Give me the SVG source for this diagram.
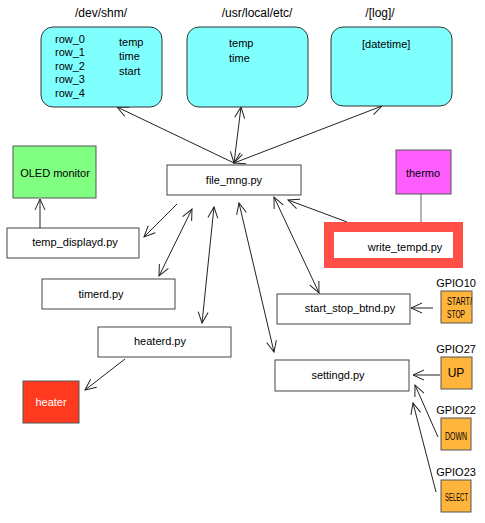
<svg xmlns="http://www.w3.org/2000/svg" width="485" height="523" viewBox="0 0 485 523">
<style>
text{font-family:"Liberation Sans",Arial,sans-serif;font-size:11px;fill:#000}
.c{text-anchor:middle}
.lbl{font-size:12px}
.box{fill:#fff;stroke:#444;stroke-width:1}
.store{fill:#80ffff;stroke:#333;stroke-width:1}
.btn{fill:#ffb43c;stroke:#555;stroke-width:1}
.cond{font-size:10px}
#connectors line,#connectors polyline{stroke:#222;stroke-width:1;fill:none}
</style>
<defs>
<marker id="ah" viewBox="-12 -6 14 12" refX="0" refY="0" markerWidth="14" markerHeight="12" markerUnits="userSpaceOnUse" orient="auto-start-reverse">
<path d="M-11,-5 L0,0 L-11,5" fill="none" stroke="#222" stroke-width="1"/>
</marker>
</defs>
<rect width="485" height="523" fill="#fff"/>

<g id="connectors">
<line x1="234" y1="163" x2="117" y2="107" marker-end="url(#ah)"/>
<line x1="234" y1="163" x2="241" y2="107" marker-start="url(#ah)" marker-end="url(#ah)"/>
<line x1="234" y1="163" x2="382" y2="106" marker-start="url(#ah)" marker-end="url(#ah)"/>
<line x1="177" y1="204" x2="144" y2="237" marker-end="url(#ah)"/>
<line x1="192" y1="209" x2="159" y2="276" marker-start="url(#ah)" marker-end="url(#ah)"/>
<line x1="214" y1="207" x2="202" y2="323" marker-start="url(#ah)" marker-end="url(#ah)"/>
<line x1="239" y1="203" x2="274" y2="352" marker-start="url(#ah)" marker-end="url(#ah)"/>
<line x1="274" y1="197" x2="319" y2="293" marker-start="url(#ah)" marker-end="url(#ah)"/>
<line x1="347" y1="222" x2="288" y2="200" marker-end="url(#ah)"/>
<line x1="40" y1="228" x2="40" y2="199" marker-end="url(#ah)"/>
<line x1="421" y1="194" x2="421" y2="222" style="stroke:#666"/>
<line x1="125" y1="359" x2="85" y2="390" marker-end="url(#ah)"/>
<line x1="433" y1="308" x2="411" y2="308" marker-end="url(#ah)"/>
<line x1="440" y1="375" x2="413" y2="375" marker-end="url(#ah)"/>
<line x1="438" y1="437" x2="415" y2="385" marker-end="url(#ah)"/>
<line x1="436" y1="492" x2="413" y2="403" marker-end="url(#ah)"/>
</g>

<g id="dev_shm">
<text class="c lbl" x="101" y="17">/dev/shm/</text>
<rect class="store" x="41" y="27" width="121" height="80" rx="12"/>
<text x="55" y="43">row_0</text>
<text x="55" y="56">row_1</text>
<text x="55" y="70">row_2</text>
<text x="55" y="83">row_3</text>
<text x="55" y="97">row_4</text>
<text x="119" y="46">temp</text>
<text x="119" y="60">time</text>
<text x="119" y="75">start</text>
</g>
<g id="usr_local_etc">
<text class="c lbl" x="257" y="17">/usr/local/etc/</text>
<rect class="store" x="187" y="27" width="121" height="80" rx="12"/>
<text x="229" y="47">temp</text>
<text x="229" y="62">time</text>
</g>
<g id="log">
<text class="c lbl" x="380" y="17">/[log]/</text>
<rect class="store" x="331" y="27" width="121" height="79" rx="12"/>
<text x="362" y="48">[datetime]</text>
</g>

<g id="file_mng">
<rect class="box" x="167" y="165" width="134" height="30"/>
<text class="c" x="234" y="184">file_mng.py</text>
</g>
<g id="oled">
<rect x="13" y="146" width="83" height="52" fill="#80ff80" stroke="#555"/>
<text class="c" x="55" y="177">OLED monitor</text>
</g>
<g id="thermo">
<rect x="396" y="150" width="55" height="44" fill="#ff5eff" stroke="#555"/>
<text class="c" x="423" y="177">thermo</text>
</g>
<g id="temp_displayd">
<rect class="box" x="7" y="228" width="132" height="30"/>
<text class="c" x="75" y="246">temp_displayd.py</text>
</g>
<g id="write_tempd">
<rect x="329" y="227" width="129" height="36" fill="#fff" stroke="#ff4f46" stroke-width="10"/>
<text class="c" x="405" y="251">write_tempd.py</text>
</g>
<g id="timerd">
<rect class="box" x="42" y="279" width="133" height="30"/>
<text class="c" x="101" y="298">timerd.py</text>
</g>
<g id="heaterd">
<rect class="box" x="98" y="327" width="133" height="30"/>
<text class="c" x="160" y="345">heaterd.py</text>
</g>
<g id="heater">
<rect x="23" y="381" width="56" height="42" fill="#ff3a1f" stroke="#555"/>
<text class="c" x="51" y="406" style="fill:#fff">heater</text>
</g>
<g id="start_stop_btnd">
<rect class="box" x="277" y="294" width="133" height="30"/>
<text class="c" x="350" y="312">start_stop_btnd.py</text>
</g>
<g id="settingd">
<rect class="box" x="275" y="360" width="134" height="31"/>
<text class="c" x="338" y="379">settingd.py</text>
</g>
<g id="gpio10">
<text class="c" x="456" y="287">GPIO10</text>
<rect class="btn" x="441" y="291" width="31" height="32"/>
<text class="cond" x="447" y="305" textLength="25" lengthAdjust="spacingAndGlyphs">START/</text>
<text class="cond" x="447" y="318" textLength="18" lengthAdjust="spacingAndGlyphs">STOP</text>
</g>
<g id="gpio27">
<text class="c" x="456" y="353">GPIO27</text>
<rect class="btn" x="441" y="357" width="31" height="32"/>
<text class="c" x="456" y="377" style="font-size:12px">UP</text>
</g>
<g id="gpio22">
<text class="c" x="456" y="414">GPIO22</text>
<rect class="btn" x="441" y="418" width="30" height="32"/>
<text class="cond" x="445" y="440" textLength="22" lengthAdjust="spacingAndGlyphs">DOWN</text>
</g>
<g id="gpio23">
<text class="c" x="456" y="476">GPIO23</text>
<rect class="btn" x="441" y="480" width="30" height="32"/>
<text class="cond" x="445" y="501" textLength="23" lengthAdjust="spacingAndGlyphs">SELECT</text>
</g>
</svg>
